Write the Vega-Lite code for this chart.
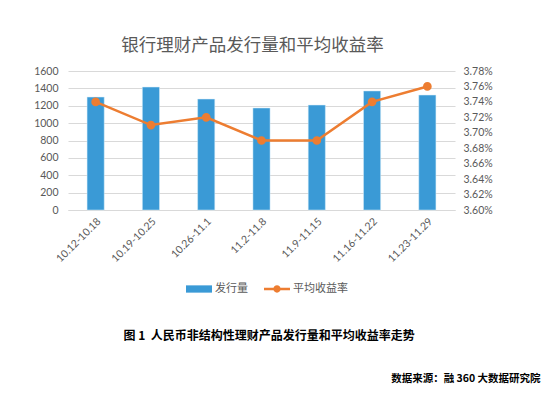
{
  "$schema": "https://vega.github.io/schema/vega-lite/v6.json",
  "width": 387,
  "height": 139,
  "autosize": {"type": "none"},
  "padding": {"left": 68, "top": 71, "right": 98, "bottom": 186},
  "background": "white",
  "title": {
    "text": "银行理财产品发行量和平均收益率",
    "font": "Noto Sans CJK SC",
    "fontSize": 17.5,
    "fontWeight": "normal",
    "color": "#595959",
    "anchor": "middle",
    "dx": -9,
    "offset": 12
  },
  "data": {
    "values": [
      {"week": "10.12-10.18", "count": 1300, "rate": 0.0374},
      {"week": "10.19-10.25", "count": 1415, "rate": 0.0371},
      {"week": "10.26-11.1", "count": 1277, "rate": 0.0372},
      {"week": "11.2-11.8", "count": 1174, "rate": 0.0369},
      {"week": "11.9-11.15", "count": 1208, "rate": 0.0369},
      {"week": "11.16-11.22", "count": 1370, "rate": 0.0374},
      {"week": "11.23-11.29", "count": 1323, "rate": 0.0376}
    ]
  },
  "config": {
    "view": {"stroke": null},
    "axis": {
      "labelFont": "Lato",
      "labelFontSize": 10.5,
      "labelColor": "#595959",
      "ticks": false,
      "domain": false,
      "grid": false
    }
  },
  "encoding": {
    "x": {
      "field": "week",
      "type": "nominal",
      "sort": null,
      "scale": {"paddingInner": 0.69, "paddingOuter": 0.345},
      "axis": {
        "labelAngle": -45,
        "labelPadding": 6,
        "domain": true,
        "domainColor": "#d9d9d9",
        "title": "图\u00a01\u00a0\u00a0人民币非结构性理财产品发行量和平均收益率走势",
        "titleFont": "Noto Sans CJK SC",
        "titleFontSize": 12,
        "titleFontWeight": "bold",
        "titleColor": "#000000",
        "titleAnchor": null,
        "titleAlign": "left",
        "titleBaseline": "middle",
        "titleX": 55,
        "titleY": 125
      }
    }
  },
  "layer": [
    {
      "mark": {"type": "bar", "stroke": "#d6ecf8", "strokeWidth": 0.5},
      "encoding": {
        "y": {
          "field": "count",
          "type": "quantitative",
          "scale": {"domain": [0, 1600], "nice": false},
          "axis": {
            "values": [0, 200, 400, 600, 800, 1000, 1200, 1400, 1600],
            "format": "d",
            "grid": true,
            "gridColor": "#d9d9d9",
            "gridWidth": 1,
            "labelPadding": 10,
            "title": null
          }
        },
        "fill": {
          "datum": "发行量",
          "scale": {"range": ["#3a9ad6"]},
          "legend": {
            "orient": "none",
            "legendX": 118,
            "legendY": 205,
            "title": null,
            "symbolType": "M-1,-0.28H1V0.28H-1Z",
            "symbolSize": 676,
            "symbolStrokeWidth": 0,
            "labelFont": "Noto Sans CJK SC",
            "labelFontSize": 11,
            "labelColor": "#595959",
            "labelOffset": 3
          }
        }
      }
    },
    {
      "encoding": {
        "y": {
          "field": "rate",
          "type": "quantitative",
          "scale": {"domain": [0.036, 0.0378], "nice": false, "zero": false},
          "axis": {
            "orient": "right",
            "values": [0.036, 0.0362, 0.0364, 0.0366, 0.0368, 0.037, 0.0372, 0.0374, 0.0376, 0.0378],
            "format": ".2%",
            "labelPadding": 8,
            "title": "数据来源：融\u00a0360\u00a0大数据研究院",
            "titleFont": "Noto Sans CJK SC",
            "titleFontSize": 10.5,
            "titleFontWeight": "bold",
            "titleColor": "#000000",
            "titleAngle": 0,
            "titleAnchor": null,
            "titleAlign": "right",
            "titleBaseline": "middle",
            "titleX": 85,
            "titleY": 307
          }
        },
        "stroke": {
          "datum": "平均收益率",
          "scale": {"range": ["#ed7d31"]},
          "legend": {
            "orient": "none",
            "legendX": 196,
            "legendY": 205,
            "title": null,
            "symbolType": "M-1,-0.09H1V0.09H-1Z M-0.28,0A0.28,0.28 0 1,1 0.28,0A0.28,0.28 0 1,1 -0.28,0Z",
            "symbolSize": 676,
            "symbolFillColor": "#ed7d31",
            "symbolStrokeWidth": 0,
            "labelFont": "Noto Sans CJK SC",
            "labelFontSize": 11,
            "labelColor": "#595959",
            "labelOffset": 3
          }
        }
      },
      "layer": [
        {"mark": {"type": "line", "strokeWidth": 2.5}},
        {"mark": {"type": "point", "filled": true, "size": 45, "opacity": 1, "fill": "#ed7d31"}}
      ]
    }
  ],
  "resolve": {"scale": {"y": "independent", "fill": "independent", "stroke": "independent"}}
}
